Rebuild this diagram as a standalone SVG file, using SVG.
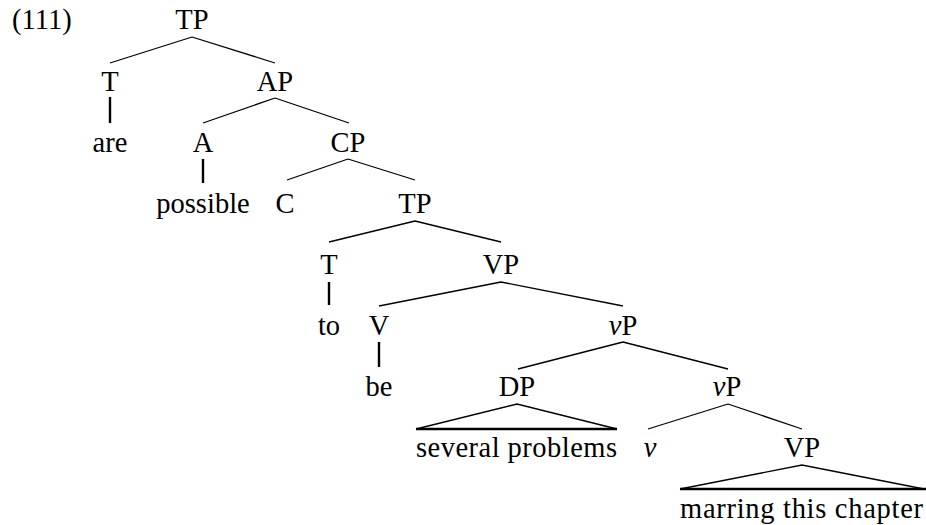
<svg xmlns="http://www.w3.org/2000/svg" width="926" height="525" viewBox="0 0 926 525">
  <style>
    text { font-family: "Liberation Serif", "DejaVu Serif", serif; font-size: 28.5px; fill: #000; text-anchor: middle; }
    .it { font-style: italic; }
    .edge { stroke: #000; stroke-width: 1.3; fill: none; }
    .unary { stroke: #000; stroke-width: 2.4; fill: none; }
    .base { stroke: #000; stroke-width: 2.6; fill: none; }
  </style>
  <rect width="926" height="525" fill="#fff"/>

  <text x="12" y="29" style="text-anchor:start">(111)</text>

  <!-- branches of the tree -->
  <g id="connectors">
    <path class="edge" d="M192 37 L110 63 M192 37 L275 63"/>
    <path class="unary" d="M110 97 L110 123"/>
    <path class="edge" d="M275 98 L203 123 M275 98 L349 123"/>
    <path class="unary" d="M203 159 L203 183"/>
    <path class="edge" d="M348 159 L287 180 M348 159 L415 180"/>
    <path class="edge" d="M415 221 L329 242 M415 221 L501 242"/>
    <path class="unary" d="M329 282 L329 305"/>
    <path class="edge" d="M501 282 L379 306 M501 282 L623 306"/>
    <path class="unary" d="M379 342 L379 367"/>
    <path class="edge" d="M623 342 L518 369 M623 342 L728 369"/>
    <!-- DP triangle -->
    <path class="edge" d="M416 429 L517 404 L617 429"/>
    <path class="base" d="M416 429 L617 429"/>
    <path class="edge" d="M728 404 L648 429 M728 404 L802 429"/>
    <!-- VP triangle -->
    <path class="edge" d="M680 489 L802 465 L924 489"/>
    <path class="base" d="M680 489 L926 489"/>
  </g>

  <g id="tp1"><text x="192" y="29">TP</text></g>
  <g id="t1"><text x="110" y="91">T</text></g>
  <g id="ap"><text x="275" y="91">AP</text></g>
  <g id="are"><text x="110" y="152">are</text></g>
  <g id="a"><text x="203" y="152">A</text></g>
  <g id="cp"><text x="348" y="152">CP</text></g>
  <g id="possible"><text x="203" y="213">possible</text></g>
  <g id="c"><text x="285" y="213">C</text></g>
  <g id="tp2"><text x="415" y="213">TP</text></g>
  <g id="t2"><text x="329" y="274">T</text></g>
  <g id="vp1"><text x="501" y="274">VP</text></g>
  <g id="to"><text x="329" y="335">to</text></g>
  <g id="v"><text x="379" y="335">V</text></g>
  <g id="littlevp1"><text x="623" y="335"><tspan class="it">v</tspan>P</text></g>
  <g id="be"><text x="379" y="396">be</text></g>
  <g id="dp"><text x="517" y="396">DP</text></g>
  <g id="littlevp2"><text x="727" y="396"><tspan class="it">v</tspan>P</text></g>
  <g id="several-problems"><text x="416" y="457" style="text-anchor:start" textLength="201">several problems</text></g>
  <g id="littlev"><text x="650" y="457" class="it">v</text></g>
  <g id="vp2"><text x="802" y="457">VP</text></g>
  <g id="marring"><text x="680" y="518" style="text-anchor:start" textLength="243">marring this chapter</text></g>
</svg>
